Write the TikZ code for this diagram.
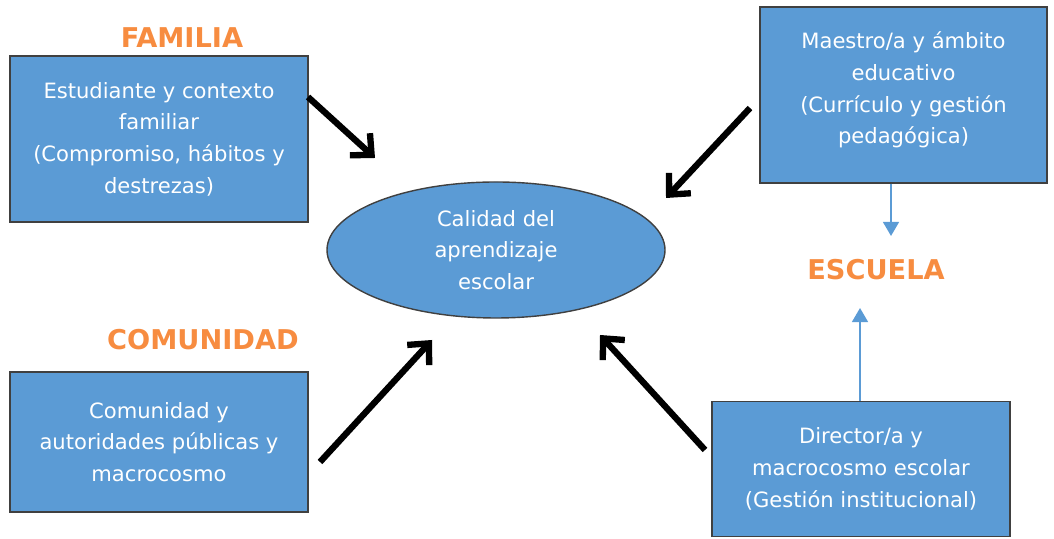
\documentclass[tikz,border=0pt]{standalone}
\usepackage{fontspec}
\setmainfont{DejaVu Sans}
\usepackage{tikz}
\usetikzlibrary{arrows.meta,shapes.geometric}

\definecolor{cajaazul}{RGB}{91,155,213}
\definecolor{naranja}{RGB}{247,140,64}
\definecolor{flechaazul}{RGB}{91,155,213}

\tikzset{
  caja/.style={draw=black!75, line width=0.8pt, fill=cajaazul, text=white,
    align=center, font=\fontsize{12}{18}\selectfont, inner sep=0pt},
  etiqueta/.style={text=naranja, font=\fontsize{15.5}{17}\selectfont\bfseries},
  flecha/.style={line width=3.6pt, -{Straight Barb[length=9pt,width=17pt]}},
  flechita/.style={draw=flechaazul, line width=1.2pt, -{Triangle[length=8pt,width=9pt]}}
}

\begin{document}
\begin{tikzpicture}
\useasboundingbox (0,0) rectangle (21.08,10.78);

% cajas
\node[caja, minimum width=5.96cm, minimum height=3.32cm] (fam) at (3.18,8.00)
  {Estudiante y contexto\\familiar\\(Compromiso, hábitos y\\destrezas)};
\node[caja, minimum width=5.74cm, minimum height=3.52cm] (maes) at (18.07,8.88)
  {Maestro/a y ámbito\\educativo\\(Currículo y gestión\\pedagógica)\\[-10pt]\mbox{}};
\node[caja, minimum width=5.96cm, minimum height=2.80cm] (com) at (3.18,1.94)
  {Comunidad y\\autoridades públicas y\\macrocosmo};
\node[caja, minimum width=5.96cm, minimum height=2.70cm] (dir) at (17.22,1.40)
  {Director/a y\\macrocosmo escolar\\(Gestión institucional)};

% centro
\node[caja, ellipse, minimum width=6.76cm, minimum height=2.72cm] (cal) at (9.92,5.78)
  {Calidad del\\aprendizaje\\escolar};

% etiquetas
\node[etiqueta] (tfam) at (3.64,10.02) {FAMILIA};
\node[etiqueta] (tcom) at (4.06,3.98) {COMUNIDAD};
\node[etiqueta] (tesc) at (17.52,5.38) {ESCUELA};

% extremos de las flechas
\coordinate (a1) at (6.16,8.84);  \coordinate (b1) at (7.50,7.62);
\coordinate (a2) at (15.00,8.62); \coordinate (b2) at (13.32,6.82);
\coordinate (a3) at (6.40,1.54);  \coordinate (b3) at (8.64,3.98);
\coordinate (a4) at (14.10,1.78); \coordinate (b4) at (12.00,4.08);

\foreach \i in {1,2,3,4} {
\draw[flecha] (a\i) -- (b\i);
}

\coordinate (e1) at (17.82,6.06);
\coordinate (e2) at (17.20,4.62);
\draw[flechita] (maes.south -| e1) -- (e1);
\draw[flechita] (dir.north -| e2) -- (e2);

\end{tikzpicture}
\end{document}
